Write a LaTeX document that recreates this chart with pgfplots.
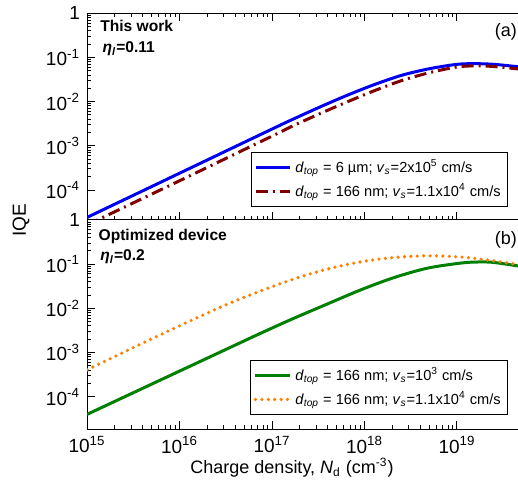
\documentclass[border=0pt]{standalone}
\usepackage{fontspec}
\setmainfont{Liberation Sans}
\usepackage{pgfplots}
\pgfplotsset{compat=1.18}
\definecolor{cblue}{RGB}{0,0,240}
\definecolor{cred}{RGB}{128,0,0}
\definecolor{cgreen}{RGB}{0,128,0}
\definecolor{corange}{RGB}{255,128,0}
\tikzset{myann/.style={font=\fontsize{7.8}{9}\selectfont\bfseries, inner sep=0pt}}
\begin{document}
\begin{tikzpicture}
\useasboundingbox (-43.5pt,-31pt) rectangle (215.5pt,214.5pt);
% ---------- top panel ----------
\begin{axis}[scale only axis, width=215.5pt, height=103.35pt,
    xmode=log, ymode=log,
    xmin=1e15, xmax=4.57e19, ymin=2.1e-5, ymax=1,
    at={(0,104.5pt)}, anchor=south west,
    axis line style={line width=0.5pt},
    tick style={black, line width=0.5pt},
    major tick length=4pt, minor tick length=2pt,
    tick align=inside, ytick pos=left, xtick pos=both,
    xtick={1e15,1e16,1e17,1e18,1e19}, xticklabels={},
    ytick={1e-4,1e-3,1e-2,1e-1,1},
    yticklabels={10\textsuperscript{-4},10\textsuperscript{-3},10\textsuperscript{-2},10\textsuperscript{-1},1},
    tick label style={font=\fontsize{9.5}{11}\selectfont},
    legend cell align=left,
    legend style={font=\fontsize{7.3}{9}\selectfont, draw=black, line width=0.5pt,
      fill=white, inner sep=1.5pt, at={(0.977,0.063)}, anchor=south east}]
\addplot[cblue, line width=1.5pt, smooth] coordinates {
(1e15,2.40e-5) (1e16,2.40e-4) (1e17,2.40e-3) (1.585e17,3.78e-3) (3.16e17,7.28e-3)
(6.31e17,1.36e-2) (1.26e18,2.41e-2) (2.51e18,3.94e-2) (5.01e18,5.56e-2) (1e19,7.00e-2)
(1.585e19,7.24e-2) (2.51e19,7.00e-2) (4.57e19,6.17e-2)};
\addlegendentry{\textit{d}\textsubscript{\textit{top}} = 6 µm; \textit{v}\textsubscript{\textit{s}}=2x10\textsuperscript{5} cm/s}
\addplot[cred, line width=1.5pt, smooth, dash pattern=on 6pt off 2.5pt on 1pt off 2.5pt] coordinates {
(1e15,1.62e-5) (1e16,1.62e-4) (1e17,1.66e-3) (1.585e17,2.67e-3) (3.16e17,5.15e-3)
(6.31e17,9.62e-3) (1.26e18,1.75e-2) (2.51e18,2.99e-2) (5.01e18,4.52e-2) (1e19,6.10e-2)
(1.585e19,6.46e-2) (2.51e19,6.24e-2) (4.57e19,5.50e-2)};
\addlegendentry{\textit{d}\textsubscript{\textit{top}} = 166 nm; \textit{v}\textsubscript{\textit{s}}=1.1x10\textsuperscript{4} cm/s}
\node[myann, anchor=west] at (rel axis cs:0.030,0.939) {This work};
\node[myann, anchor=west] at (rel axis cs:0.035,0.827) {\textit{η}\textsubscript{\textit{l}}=0.11};
\node[font=\fontsize{9}{10}\selectfont, inner sep=0pt, anchor=east] at (rel axis cs:0.998,0.911) {(a)};
\end{axis}
% ---------- bottom panel ----------
\begin{axis}[scale only axis, width=215.5pt, height=104.5pt,
    xmode=log, ymode=log,
    xmin=1e15, xmax=4.57e19, ymin=1.86e-5, ymax=1,
    at={(0,0)}, anchor=south west,
    axis line style={line width=0.5pt},
    tick style={black, line width=0.5pt},
    major tick length=4pt, minor tick length=2pt,
    tick align=inside, ytick pos=left, xtick pos=left,
    xtick={1e15,1e16,1e17,1e18,1e19},
    xticklabels={10\textsuperscript{15},10\textsuperscript{16},10\textsuperscript{17},10\textsuperscript{18},10\textsuperscript{19}},
    ytick={1e-4,1e-3,1e-2,1e-1,1},
    yticklabels={10\textsuperscript{-4},10\textsuperscript{-3},10\textsuperscript{-2},10\textsuperscript{-1},1},
    tick label style={font=\fontsize{9.5}{11}\selectfont},
    legend cell align=left,
    legend style={font=\fontsize{7.3}{9}\selectfont, draw=black, line width=0.5pt,
      fill=white, inner sep=1.5pt, at={(0.977,0.067)}, anchor=south east}]
\addplot[cgreen, line width=1.5pt, smooth] coordinates {
(1e15,3.98e-5) (3.16e15,1.23e-4) (1e16,3.80e-4) (3.16e16,1.17e-3) (7.41e16,2.69e-3)
(1.70e17,5.89e-3) (3.98e17,1.26e-2) (8.91e17,2.57e-2) (2.04e18,4.90e-2) (4.79e18,8.13e-2)
(1.10e19,0.106) (1.66e19,0.112) (2.45e19,0.110) (4.57e19,0.0912)};
\addlegendentry{\textit{d}\textsubscript{\textit{top}} = 166 nm; \textit{v}\textsubscript{\textit{s}}=10\textsuperscript{3} cm/s}
\addplot[corange, line width=1.8pt, smooth, line cap=round, dash pattern=on 0pt off 3.2pt] coordinates {
(1e15,4.07e-4) (3.16e15,1.29e-3) (1e16,4.03e-3) (3.16e16,1.20e-2) (7.41e16,2.45e-2)
(1.70e17,4.57e-2) (3.98e17,7.76e-2) (8.91e17,0.112) (2.04e18,0.141) (4.79e18,0.155)
(1.10e19,0.145) (2.45e19,0.120) (4.57e19,0.0977)};
\addlegendentry{\textit{d}\textsubscript{\textit{top}} = 166 nm; \textit{v}\textsubscript{\textit{s}}=1.1x10\textsuperscript{4} cm/s}
\node[myann, anchor=west] at (rel axis cs:0.026,0.921) {Optimized device};
\node[myann, anchor=west] at (rel axis cs:0.030,0.824) {\textit{η}\textsubscript{\textit{l}}=0.2};
\node[font=\fontsize{9}{10}\selectfont, inner sep=0pt, anchor=east] at (rel axis cs:0.998,0.904) {(b)};
\end{axis}
\node[rotate=90, font=\fontsize{9.5}{11}\selectfont] at (-33pt,104.5pt) {IQE};
\node[anchor=base, font=\fontsize{9}{11}\selectfont] at (102.5pt,-22.5pt) {Charge density, \textit{N}\textsubscript{d} (cm\textsuperscript{-3})};
\end{tikzpicture}
\end{document}
